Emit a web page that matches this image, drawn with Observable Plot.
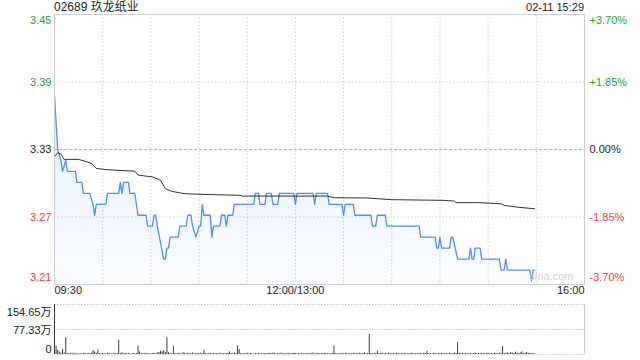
<!DOCTYPE html>
<html><head><meta charset="utf-8">
<script src="https://cdn.jsdelivr.net/npm/d3@7"></script>
<script src="https://cdn.jsdelivr.net/npm/@observablehq/plot@0.6"></script>
<style>
body{margin:0;background:#fff;}
#wrap{position:relative;width:640px;height:360px;font-family:"Liberation Sans",Arial,"Noto Sans CJK SC",sans-serif;}
#title{position:absolute;left:54px;top:0;font-size:12px;line-height:14px;color:#222;}
#stamp{position:absolute;right:56px;top:0;font-size:11px;line-height:14px;color:#222;}
svg{display:block}
</style></head><body>
<div id="wrap"><div id="chart"></div><div id="title">02689 玖龙纸业</div><div id="stamp">02-11 15:29</div></div>
<script>
const stockTitle = "02689 玖龙纸业";
const prevClose = 3.33;
const pctTicks = [3.70, 1.85, 0, -1.85, -3.70];
const priceLabels = ["3.45", "3.39", "3.33", "3.27", "3.21"];
const pctLabels = ["+3.70%", "+1.85%", "0.00%", "-1.85%", "-3.70%"];
const xLabelTimes = ["09:30", "12:00", "16:00"];
const xLabels = ["09:30", "12:00/13:00", "16:00"];
const gridTimes = ["10:00","10:30","11:00","11:30","12:00","13:30","14:00","14:30","15:00","15:30"];
const volTicks = [154.65, 77.33, 0];
const volLabels = ["154.65万", "77.33万", "0"];

const priceTimes = ["09:30","09:32","09:34","09:35","09:37","09:38","09:43","09:44","09:47","09:48",
"09:52","09:54","09:55","09:56","10:02","10:03","10:10","10:11","10:12","10:13",
"10:16","10:17","10:20","10:22","10:27","10:28","10:31","10:32","10:33","10:34",
"10:38","10:39","10:40","10:41","10:42","10:47","10:48","10:52","10:53","10:55",
"10:56","10:58","11:00","11:01","11:02","11:03","11:07","11:08","11:09","11:13",
"11:14","11:16","11:17","11:18","11:21","11:22","11:34","11:35","11:37","11:38",
"11:41","11:42","11:45","11:46","11:49","11:50","11:59","13:00","13:01","13:11",
"13:12","13:13","13:20","13:21","13:29","13:30","13:31","13:36","13:37","13:47",
"13:48","13:50","13:51","13:56","13:57","14:17","14:18","14:27","14:28","14:29",
"14:30","14:31","14:36","14:37","14:38","14:41","14:48","14:49","14:50","14:51",
"14:52","14:55","14:56","15:07","15:08","15:10","15:11","15:12","15:26","15:27",
"15:28","15:29"];
const prices = [3.38,3.33,3.32,3.31,3.32,3.31,3.31,3.30,3.30,3.29,
3.29,3.28,3.27,3.28,3.28,3.29,3.29,3.30,3.29,3.30,
3.30,3.29,3.29,3.27,3.27,3.26,3.26,3.27,3.27,3.26,
3.23,3.23,3.24,3.24,3.25,3.25,3.26,3.26,3.27,3.27,
3.26,3.25,3.26,3.26,3.28,3.27,3.27,3.25,3.26,3.26,
3.27,3.27,3.26,3.27,3.27,3.28,3.28,3.29,3.29,3.28,
3.28,3.29,3.29,3.28,3.28,3.29,3.29,3.28,3.29,3.29,
3.28,3.29,3.29,3.28,3.28,3.27,3.28,3.28,3.27,3.27,
3.26,3.26,3.27,3.27,3.26,3.26,3.25,3.25,3.24,3.24,
3.25,3.24,3.24,3.25,3.25,3.23,3.23,3.24,3.23,3.23,
3.24,3.24,3.23,3.23,3.22,3.22,3.23,3.22,3.22,3.21,
3.22,3.22];

const avgTimes = ["09:30","09:32","09:34","09:36","09:45","09:50","09:53","09:56","10:01","10:07",
"10:20","10:22","10:31","10:36","10:39","10:43","10:51","11:01","11:25","11:27",
"13:20","13:24","13:45","14:00","14:32","14:39","14:40","14:54","15:08","15:10",
"15:18","15:29"];
const avgPrices = [3.3234,3.3271,3.3259,3.3210,3.3210,3.3188,3.3173,3.3127,3.3118,3.3112,
3.3102,3.3066,3.3050,3.3020,3.2943,3.2918,3.2897,3.2891,3.2882,3.2875,
3.2875,3.2860,3.2857,3.2842,3.2836,3.2829,3.2815,3.2815,3.2805,3.2790,
3.2774,3.2759];

// volume per minute from 09:30 (万股)
const volumes = [154.65,25.8,13,8,4,15,5,51.6,3,2,
3,2,4,2,3,1,3,2,4,3,
2,3,2,4,13,8,4,15,3,2,
3,2,2,4,3,2,1,3,2,3,
44,3,6,2,4,2,3,2,1,3,
2,3,26,8,2,3,2,4,2,3,
2,3,4,2,5,6,10,8,12,6,
51.6,5,3,2,24,3,2,4,3,2,
6,3,2,4,2,3,5,2,3,2,
3,4,2,13,3,2,3,4,2,3,
2,3,2,4,2,3,2,3,4,8,
3,2,4,3,26,15,3,2,3,2,
4,2,3,2,1,3,2,4,2,3,
2,3,2,3,4,2,5,3,2,3,
2,4,2,3,2,3,4,2,3,4,
3,2,3,2,4,2,3,2,3,2,
3,5,2,3,4,2,3,2,4,3,
2,3,2,4,26,3,2,3,2,4,
2,3,4,2,3,2,4,3,2,3,
4,2,3,5,2,3,63,3,2,4,
3,10,2,3,4,2,3,2,4,3,
2,3,2,4,3,2,3,2,4,2,
3,2,4,3,2,3,2,4,3,2,
4,3,10,2,3,2,4,3,2,3,
2,4,3,2,3,2,4,3,2,5,
3,38,4,2,3,2,4,3,2,3,
2,3,4,2,3,2,4,3,2,3,
4,2,3,2,4,3,2,3,4,24,
3,4,5,3,6,4,3,7,4,3,
5,8,3,4,6,3,4,2,3,2];

const GREEN = "#1fa31f", RED = "#f03c3c", DARK = "#222";
const FONT = '"Liberation Sans", Arial, "Noto Sans CJK SC", sans-serif';

function toMin(t){ const [h,m] = t.split(":").map(Number); let v = h*60 + m - 570; if (h >= 13) v -= 60; return v; }

const lo = prevClose*(1 + pctTicks[4]/100), hi = prevClose*(1 + pctTicks[0]/100);
const priceData = priceTimes.map((t,i)=>({m: toMin(t), p: prices[i]}));
const avgData = avgTimes.map((t,i)=>({m: toMin(t), p: avgPrices[i]}));
const tickRows = pctTicks.map((p,i)=>({y: prevClose*(1+p/100), price: priceLabels[i], pct: pctLabels[i], color: p>0?GREEN:(p<0?RED:DARK)}));
const gridMin = gridTimes.map(toMin);
const xRows = xLabelTimes.map((t,i)=>({m: toMin(t), label: xLabels[i]}));

function sideLabels(rows, dy){
  return [
    Plot.text(rows, {y:"y", text:"price", fill:"color", frameAnchor:"left", textAnchor:"end", dx:-3, dy}),
    Plot.text(rows, {y:"y", text:"pct", fill:"color", frameAnchor:"right", textAnchor:"start", dx:5, dy})
  ];
}

const main = Plot.plot({
  width:640, height:300, marginLeft:54, marginRight:56, marginTop:14, marginBottom:16,
  style:{fontFamily:FONT, fontSize:"11px", background:"transparent", overflow:"visible"},
  x:{domain:[0,330], axis:null},
  y:{domain:[lo,hi], axis:null},
  marks:[
    Plot.ruleX(gridMin, {stroke:"#d0d0d0", strokeDasharray:"1.5,2"}),
    Plot.ruleY([tickRows[1].y, tickRows[3].y], {stroke:"#d0d0d0", strokeDasharray:"1.5,2"}),
    Plot.ruleY([prevClose], {stroke:"#b0b0b0", strokeDasharray:"3,2"}),
    Plot.areaY(priceData, {x:"m", y1:lo, y2:"p", fill:"url(#pgrad)"}),
    Plot.line(priceData, {x:"m", y:"p", stroke:"#4f8ef0", strokeWidth:1.3}),
    Plot.line(avgData, {x:"m", y:"p", stroke:"#333", strokeWidth:1}),
    Plot.frame({stroke:"#cfcfcf"}),
    ...sideLabels([tickRows[0]], 6),
    ...sideLabels(tickRows.slice(1,4), 0),
    ...sideLabels([tickRows[4]], -7),
    Plot.text([xRows[0]], {x:"m", text:"label", frameAnchor:"bottom", dy:9, textAnchor:"start", fill:DARK}),
    Plot.text([xRows[1]], {x:"m", text:"label", frameAnchor:"bottom", dy:9, textAnchor:"middle", fill:DARK}),
    Plot.text([xRows[2]], {x:"m", text:"label", frameAnchor:"bottom", dy:9, textAnchor:"end", fill:DARK}),
    Plot.text(["sina.com"], {frameAnchor:"bottom-right", dx:-11, dy:-5, textAnchor:"end", fill:"#d4d4d4", fontSize:11})
  ]
});
const defs = d3.select(main).insert("defs", ":first-child");
const grad = defs.append("linearGradient").attr("id","pgrad").attr("x1",0).attr("y1",0).attr("x2",0).attr("y2",1);
grad.append("stop").attr("offset","0%").attr("stop-color","#4f8ef0").attr("stop-opacity",0.16);
grad.append("stop").attr("offset","100%").attr("stop-color","#4f8ef0").attr("stop-opacity",0.02);

const volData = volumes.map((v,i)=>({m:i, v}));
const volRows = volTicks.map((v,i)=>({y:v, label:volLabels[i]}));
const vol = Plot.plot({
  width:640, height:60, marginLeft:54, marginRight:56, marginTop:4, marginBottom:6,
  style:{fontFamily:FONT, fontSize:"11px", background:"transparent", overflow:"visible"},
  x:{domain:[0,330], axis:null},
  y:{domain:[0, volTicks[0]], axis:null},
  marks:[
    Plot.ruleY([volTicks[0], volTicks[1], 0], {stroke:"#c8c8c8", strokeDasharray:"1.5,1.5"}),
    Plot.ruleX([330], {stroke:"#cfcfcf"}),
    Plot.ruleX([0], {stroke:"#cfcfcf"}),
    Plot.ruleX(volData, {x:"m", y1:0, y2:"v", stroke:"#3a3a3a", strokeWidth:1}),
    Plot.text([volRows[0]], {y:"y", text:"label", frameAnchor:"left", textAnchor:"end", dx:-3, dy:8, fill:DARK}),
    Plot.text([volRows[1]], {y:"y", text:"label", frameAnchor:"left", textAnchor:"end", dx:-3, dy:1, fill:DARK}),
    Plot.text([volRows[2]], {y:"y", text:"label", frameAnchor:"left", textAnchor:"end", dx:-3, dy:-5, fill:DARK})
  ]
});
document.getElementById("chart").append(main, vol);
document.getElementById("title").textContent = stockTitle;
</script></body></html>
